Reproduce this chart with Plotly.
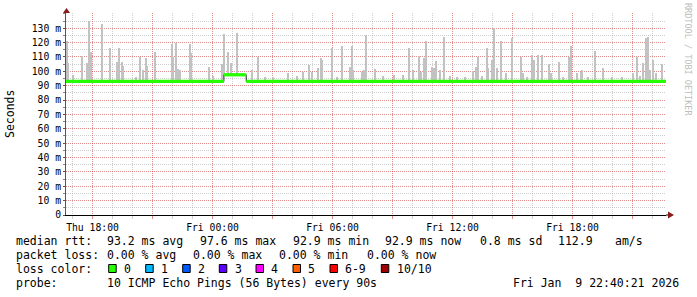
import plotly.graph_objects as go
from datetime import datetime

# ---------------- data ----------------
x_start = "2026-01-08 16:40:21"
x_end = "2026-01-09 22:40:21"

# median RTT (ms), step series
median_times = ["2026-01-08 16:40:21", "2026-01-09 00:34", "2026-01-09 01:41", "2026-01-09 22:40:21"]
median_values = [93.0, 97.6, 93.0, 93.0]

# smoke spikes (max ping of each interval), ms
spike_times = [
    "2026-01-08 16:43", "2026-01-08 16:47", "2026-01-08 17:01", "2026-01-08 17:28", "2026-01-08 17:45",
    "2026-01-08 17:51", "2026-01-08 17:55", "2026-01-08 18:30", "2026-01-08 18:53", "2026-01-08 19:13",
    "2026-01-08 19:21", "2026-01-08 19:28", "2026-01-08 19:33", "2026-01-08 20:10", "2026-01-08 20:24",
    "2026-01-08 20:31", "2026-01-08 20:41", "2026-01-08 20:43", "2026-01-08 21:09", "2026-01-08 21:58",
    "2026-01-08 22:03", "2026-01-08 22:11", "2026-01-08 22:18", "2026-01-08 22:23", "2026-01-08 22:54",
    "2026-01-08 22:57", "2026-01-08 23:51", "2026-01-09 00:03", "2026-01-09 00:30", "2026-01-09 00:35",
    "2026-01-09 00:47", "2026-01-09 00:57", "2026-01-09 01:13", "2026-01-09 01:59", "2026-01-09 02:17",
    "2026-01-09 02:38", "2026-01-09 03:03", "2026-01-09 03:46", "2026-01-09 04:13", "2026-01-09 04:33",
    "2026-01-09 04:51", "2026-01-09 04:58", "2026-01-09 05:18", "2026-01-09 05:26", "2026-01-09 05:30",
    "2026-01-09 05:58", "2026-01-09 06:15", "2026-01-09 06:30", "2026-01-09 06:53", "2026-01-09 06:58",
    "2026-01-09 07:03", "2026-01-09 07:28", "2026-01-09 07:35", "2026-01-09 07:40", "2026-01-09 08:08",
    "2026-01-09 08:33", "2026-01-09 09:05", "2026-01-09 09:33", "2026-01-09 09:50", "2026-01-09 10:01",
    "2026-01-09 10:21", "2026-01-09 10:25", "2026-01-09 10:35", "2026-01-09 10:40", "2026-01-09 11:00",
    "2026-01-09 11:05", "2026-01-09 11:11", "2026-01-09 11:23", "2026-01-09 11:35", "2026-01-09 11:53",
    "2026-01-09 12:15", "2026-01-09 12:38", "2026-01-09 13:03", "2026-01-09 13:11", "2026-01-09 13:18",
    "2026-01-09 13:28", "2026-01-09 13:43", "2026-01-09 13:48", "2026-01-09 14:00", "2026-01-09 14:06",
    "2026-01-09 14:13", "2026-01-09 14:26", "2026-01-09 14:40", "2026-01-09 14:58", "2026-01-09 15:25",
    "2026-01-09 15:31", "2026-01-09 15:43", "2026-01-09 16:00", "2026-01-09 16:06", "2026-01-09 16:18",
    "2026-01-09 16:30", "2026-01-09 16:51", "2026-01-09 16:56", "2026-01-09 17:21", "2026-01-09 17:33",
    "2026-01-09 17:51", "2026-01-09 17:56", "2026-01-09 18:13", "2026-01-09 18:26", "2026-01-09 18:30",
    "2026-01-09 18:48", "2026-01-09 19:09", "2026-01-09 19:33", "2026-01-09 20:00", "2026-01-09 20:28",
    "2026-01-09 21:03", "2026-01-09 21:13", "2026-01-09 21:23", "2026-01-09 21:33", "2026-01-09 21:40",
    "2026-01-09 21:48", "2026-01-09 21:53", "2026-01-09 22:01", "2026-01-09 22:11", "2026-01-09 22:28",
    "2026-01-09 22:30",
]
spike_values = [
    121.0, 106.0, 97.5, 111.0, 105.6,
    135.0, 113.7, 133.0, 116.0, 106.7,
    116.5, 106.7, 104.0, 96.0, 110.0,
    101.0, 109.5, 104.0, 113.7, 119.2,
    110.0, 120.0, 101.5, 101.0, 119.2,
    112.6, 103.0, 97.0, 105.0, 126.3,
    113.7, 106.0, 127.0, 101.0, 109.8,
    96.3, 96.0, 98.7, 97.0, 99.8,
    104.5, 99.8, 102.0, 109.6, 108.0,
    116.5, 96.0, 117.9, 103.0, 117.9,
    101.0, 99.8, 101.0, 125.3, 101.7,
    97.0, 97.5, 97.5, 116.5, 101.0,
    111.0, 99.8, 109.0, 121.2, 103.0,
    102.0, 107.2, 101.0, 124.2, 97.0,
    96.0, 96.0, 100.3, 103.0, 110.0,
    97.0, 116.0, 102.0, 108.0, 130.5,
    102.0, 121.2, 98.5, 123.5, 110.0,
    98.5, 96.0, 111.4, 108.0, 111.4,
    111.4, 105.0, 98.5, 106.3, 96.0,
    110.0, 117.9, 98.5, 99.8, 101.0,
    96.0, 114.2, 102.6, 96.0, 96.0,
    98.5, 110.0, 97.0, 105.6, 123.0,
    124.2, 101.0, 108.0, 98.5, 97.5,
    105.0,
]

# axis ticks
y_tick_vals = [0, 10, 20, 30, 40, 50, 60, 70, 80, 90, 100, 110, 120, 130]
y_tick_text = ["0", "10 m", "20 m", "30 m", "40 m", "50 m", "60 m", "70 m", "80 m",
               "90 m", "100 m", "110 m", "120 m", "130 m"]
x_tick_vals = ["2026-01-08 18:00", "2026-01-08 21:00", "2026-01-09 00:00", "2026-01-09 03:00",
               "2026-01-09 06:00", "2026-01-09 09:00", "2026-01-09 12:00", "2026-01-09 15:00",
               "2026-01-09 18:00", "2026-01-09 21:00"]
x_tick_text = ["Thu 18:00", "", "Fri 00:00", "", "Fri 06:00", "", "Fri 12:00", "", "Fri 18:00", ""]

# legend texts
rtt_title = "median rtt:"
rtt_stats = ["93.2 ms avg", "97.6 ms max", "92.9 ms min", "92.9 ms now", "0.8 ms sd", "112.9", "am/s"]
loss_title = "packet loss:"
loss_stats = ["0.00 % avg", "0.00 % max", "0.00 % min", "0.00 % now"]
color_title = "loss color:"
loss_labels = ["0", "1", "2", "3", "4", "5", "6-9", "10/10"]
loss_colors = ["#26ff00", "#00b8ff", "#0059ff", "#5e00ff", "#ff00ff", "#ff5e00", "#ff0000", "#a10000"]
probe_title = "probe:"
probe_text = "10 ICMP Echo Pings (56 Bytes) every 90s"
stamp_text = "Fri Jan  9 22:40:21 2026"
watermark = "RRDTOOL / TOBI OETIKER"
y_title = "Seconds"

# ---------------- layout geometry (pixels) ----------------
W, H = 697, 297
L, R, T, B = 66, 666, 13, 215
MONO = "DejaVu Sans Mono"


def px(xp):
    return (xp - L) / (R - L)


def py(yp):
    return (B - yp) / (B - T)


fig = go.Figure()

# smoke spikes drawn from the median to the max ping
fmt = "%Y-%m-%d %H:%M"
med_dt = [datetime.strptime(t[:16], fmt) for t in median_times]


def median_at(t):
    d = datetime.strptime(t, fmt)
    v = median_values[0]
    for i, md in enumerate(med_dt):
        if d >= md:
            v = median_values[i]
    return v


bases = [median_at(t) for t in spike_times]
fig.add_trace(go.Bar(
    x=spike_times, y=[v - b for v, b in zip(spike_values, bases)], base=bases,
    width=200000, marker=dict(color="#c2c2c2", line=dict(width=0)),
    hoverinfo="skip", showlegend=False,
))

# dark median line (visible at the steps)
fig.add_trace(go.Scatter(
    x=median_times, y=median_values, mode="lines", line=dict(color="#202020", width=1, shape="hv"),
    hoverinfo="skip", showlegend=False,
))

# loss-colour band on the horizontal parts
gx, gy = [], []
for i in range(len(median_times) - 1):
    gx += [median_times[i], median_times[i + 1], None]
    gy += [median_values[i], median_values[i], None]
fig.add_trace(go.Scatter(
    x=gx, y=gy, mode="lines", line=dict(color=loss_colors[0], width=3.3),
    hoverinfo="skip", showlegend=False,
))

GRID = "rgba(140,140,140,0.42)"
MGRID = "rgba(255,0,0,0.32)"

fig.update_layout(
    width=W, height=H,
    margin=dict(l=L, r=W - R, t=T, b=H - B),
    paper_bgcolor="white", plot_bgcolor="white",
    bargap=0, showlegend=False,
    font=dict(family=MONO, size=11.5, color="black"),
    xaxis=dict(
        type="date", range=[x_start, x_end],
        tickmode="array", tickvals=x_tick_vals, ticktext=x_tick_text,
        showgrid=True, gridcolor=MGRID, griddash="1px,1px", gridwidth=1,
        ticks="outside", ticklen=3, tickcolor=MGRID, tickwidth=1,
        tickfont=dict(family=MONO, size=9.75, color="black"),
        minor=dict(dtick=3600000, tick0="2026-01-08 18:00", showgrid=True, gridcolor=GRID,
                   griddash="1px,1px", gridwidth=1, ticks="outside", ticklen=3, tickcolor=GRID),
        showline=True, linecolor="black", linewidth=1,
        zeroline=False, fixedrange=True,
    ),
    yaxis=dict(
        range=[0, 140.6],
        tickmode="array", tickvals=y_tick_vals, ticktext=y_tick_text,
        showgrid=True, gridcolor=MGRID, griddash="1px,1px", gridwidth=1,
        ticks="outside", ticklen=2, tickcolor="#555555", tickwidth=1,
        tickfont=dict(family=MONO, size=9.75, color="black"),
        minor=dict(dtick=5, tick0=0, showgrid=True, gridcolor=GRID, griddash="1px,1px",
                   gridwidth=1, ticks="outside", ticklen=2, tickcolor="#888888"),
        showline=True, linecolor="#555555", linewidth=1,
        zeroline=False, fixedrange=True,
    ),
)

shapes = []
annots = []

# axis arrows
ARROW = "#8b1a1a"
shapes.append(dict(type="path", xref="paper", yref="paper",
                   path=f"M {px(66.5)} {py(8)} L {px(63)} {py(13)} L {px(70)} {py(13)} Z",
                   fillcolor=ARROW, line=dict(width=0)))
shapes.append(dict(type="line", xref="paper", yref="paper", x0=px(666), x1=px(669), y0=py(215), y1=py(215),
                   line=dict(color="black", width=1)))
shapes.append(dict(type="path", xref="paper", yref="paper",
                   path=f"M {px(674)} {py(215)} L {px(668)} {py(211.5)} L {px(668)} {py(218.5)} Z",
                   fillcolor=ARROW, line=dict(width=0)))


def text(xp, yp, s, size=11.5, color="black", anchor="left", angle=0):
    annots.append(dict(text=s, x=px(xp), y=py(yp), xref="paper", yref="paper",
                       xanchor=anchor, yanchor="middle", showarrow=False, textangle=angle,
                       borderpad=0, borderwidth=0,
                       font=dict(family=MONO, size=size, color=color)))


# y-axis title and watermark
text(10, 114, y_title, size=11.5, anchor="center", angle=-90)
text(688, 59, watermark, size=8.5, color="#bdbdbd", anchor="center", angle=90)

# legend line 1
y1, y2, y3, y4 = 241.5, 255.2, 269, 283.2
text(16, y1, rtt_title)
for xp, s in zip([107.3, 200, 292.7, 385.3, 479.7, 557.5, 614.7], rtt_stats):
    text(xp, y1, s)
# legend line 2
text(16, y2, loss_title)
for xp, s in zip([107.3, 193.3, 279.3, 366.5], loss_stats):
    text(xp, y2, s)
# legend line 3
text(16, y3, color_title)
box_x = [108.7, 145.7, 182.7, 219.3, 256, 293, 330, 381.3]
for bx, lab, col in zip(box_x, loss_labels, loss_colors):
    shapes.append(dict(type="rect", xref="paper", yref="paper",
                       x0=px(bx), x1=px(bx + 7.5), y0=py(264.5), y1=py(272.5),
                       fillcolor=col, line=dict(color="black", width=1)))
    text(bx + 15.3, y3, lab)
# legend line 4
text(16, y4, probe_title)
text(107.3, y4, probe_text)
text(512.7, y4, stamp_text)

fig.update_layout(shapes=shapes, annotations=annots)
fig.write_html("out.html")
